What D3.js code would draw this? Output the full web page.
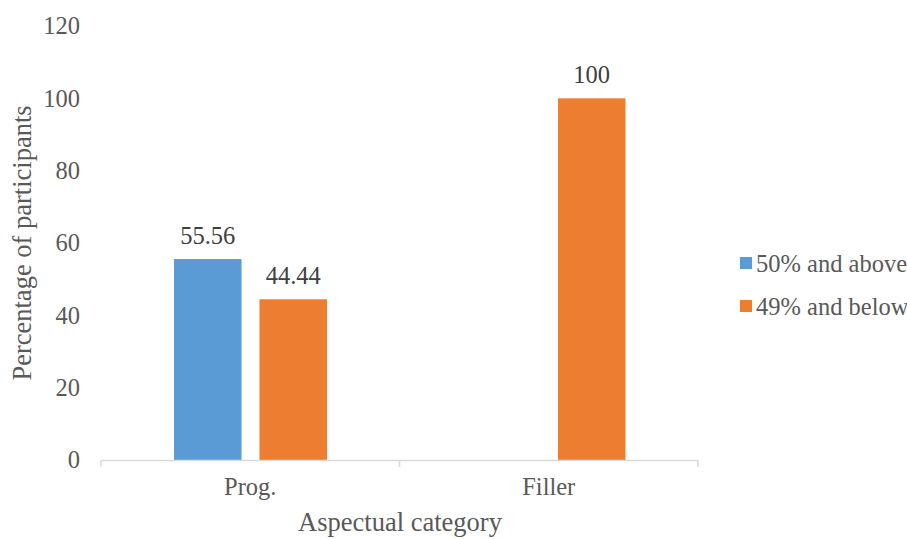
<!DOCTYPE html>
<html><head><meta charset="utf-8">
<script src="https://cdn.jsdelivr.net/npm/d3@7"></script>
<style>body{margin:0;background:#fff} text{font-family:'Liberation Serif','Times New Roman',serif}</style>
</head><body>
<script>
const categories = ["Prog.", "Filler"];
const seriesNames = ["50% and above", "49% and below"];
const above50 = [55.56, null];
const below49 = [44.44, 100];
const yTicks = [0, 20, 40, 60, 80, 100, 120];
const colors = ["#5B9BD5", "#ED7D31"];
const FF = "'Liberation Serif','Times New Roman',serif";

const W = 907, H = 539;
const m = {left: 101, right: 209, top: 26, bottom: 79};
const svg = d3.select("body").append("svg").attr("width", W).attr("height", H);

const x = d3.scaleBand().domain(categories).range([m.left, W - m.right]).paddingInner(0).paddingOuter(0);
const y = d3.scaleLinear().domain([0, 120]).range([H - m.bottom, m.top]);
const xs = d3.scaleBand().domain(seriesNames).range([73, 226]).paddingInner(0.21);

const series = [above50, below49];
const g = svg.append("g");
series.forEach((vals, si) => {
  categories.forEach((c, ci) => {
    const v = vals[ci];
    if (v == null) return;
    const bx = x(c) + xs(seriesNames[si]) * x.bandwidth() / 298.5;
    g.append("rect").attr("x", bx).attr("width", xs.bandwidth())
      .attr("y", y(v)).attr("height", y(0) - y(v)).attr("fill", colors[si]);
    g.append("text").attr("x", bx + xs.bandwidth() / 2).attr("y", y(v) - 15)
      .attr("text-anchor", "middle").attr("font-size", 24.5).attr("font-family", FF)
      .attr("fill", "#404040").text(v);
  });
});

// y axis labels (no line)
const ya = svg.append("g").attr("transform", `translate(${m.left},0)`)
  .call(d3.axisLeft(y).tickValues(yTicks).tickSize(0).tickPadding(21));
ya.select(".domain").remove();
ya.selectAll("text").attr("font-size", 24.5).attr("fill", "#595959").attr("font-family", FF);

// x axis
const xa = svg.append("g").attr("transform", `translate(0,${y(0)})`)
  .call(d3.axisBottom(x).tickSize(0).tickPadding(18));
xa.select(".domain").attr("stroke", "#d9d9d9").attr("stroke-width", 1.5);
xa.selectAll("text").attr("font-size", 24.5).attr("fill", "#595959").attr("font-family", FF);
const bounds = [m.left, ...categories.map(c => x(c) + x.bandwidth())];
svg.append("g").selectAll("line").data(bounds).join("line")
  .attr("x1", d => d).attr("x2", d => d).attr("y1", y(0)).attr("y2", y(0) + 7)
  .attr("stroke", "#d9d9d9").attr("stroke-width", 1.5);

// axis titles
svg.append("text").attr("x", 400).attr("y", 531).attr("text-anchor", "middle")
  .attr("font-size", 26.5).attr("font-family", FF).attr("fill", "#595959").text("Aspectual category");
svg.append("text").attr("transform", `translate(31,243) rotate(-90)`).attr("text-anchor", "middle")
  .attr("font-size", 26.5).attr("font-family", FF).attr("fill", "#595959").text("Percentage of participants");

// legend
const lg = svg.append("g");
seriesNames.forEach((s, i) => {
  lg.append("rect").attr("x", 740).attr("y", 257 + i * 43).attr("width", 12).attr("height", 12).attr("fill", colors[i]);
  lg.append("text").attr("x", 756).attr("y", 272 + i * 43).attr("font-size", 24.5).attr("font-family", FF)
    .attr("fill", "#595959").text(s);
});
</script>
</body></html>
